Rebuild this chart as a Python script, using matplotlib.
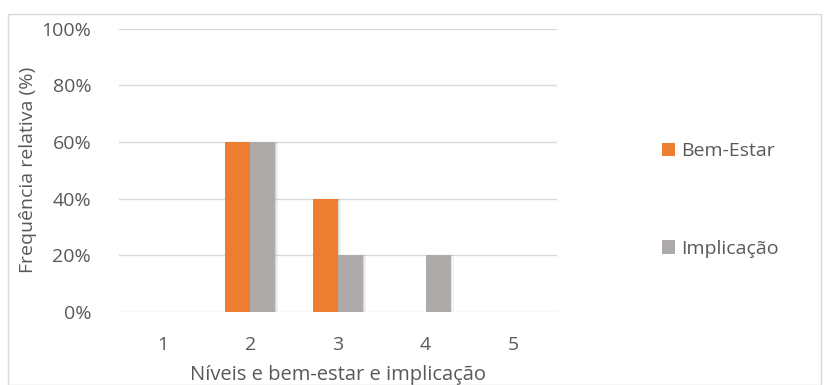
import matplotlib
matplotlib.use("Agg")
import matplotlib.pyplot as plt
from matplotlib.patches import Rectangle
import numpy as np

categories = ["1", "2", "3", "4", "5"]
bem_estar = [0.0, 0.6, 0.4, 0.0, 0.0]
implicacao = [0.0, 0.6, 0.2, 0.2, 0.0]
series_names = ["Bem-Estar", "Implicação"]
colors = ["#ED7D31", "#AEAAAA"]
yticks = [0, 0.2, 0.4, 0.6, 0.8, 1.0]
ytick_labels = ["0%", "20%", "40%", "60%", "80%", "100%"]

plt.rcParams['font.family'] = ['Open Sans', 'DejaVu Sans']
txt = "#595959"
fs = 14

W, H = 825, 385
fig = plt.figure(figsize=(W / 100, H / 100), dpi=100)

# outer chart border
fig.patches.append(Rectangle((8 / W, 0), (821 - 8) / W, (H - 14) / H,
                             transform=fig.transFigure, fill=False,
                             edgecolor="#D9D9D9", linewidth=1.0))

ax = fig.add_axes([119 / W, 1 - 312 / H, (557 - 119) / W, (312 - 28.7) / H])
x = np.arange(len(categories))
bw = 0.285
for i, (vals, c) in enumerate(zip([bem_estar, implicacao], colors)):
    pos = x + (i - 0.5) * bw
    # soft shadow
    for dx, a in [(0.035, 0.08), (0.022, 0.10), (0.01, 0.14)]:
        ax.bar(pos + dx, vals, bw, color="#7F7F7F", alpha=a, linewidth=0, zorder=2)
    ax.bar(pos, vals, bw, color=c, label=series_names[i], linewidth=0, zorder=3)

ax.set_xlim(-0.5, len(categories) - 0.5)
ax.set_ylim(0, 1.0)
ax.set_yticks(yticks)
ax.set_yticklabels(ytick_labels)
ax.set_xticks(x)
ax.set_xticklabels(categories)
ax.grid(axis="y", color="#D9D9D9", linewidth=1.0, zorder=0)
ax.set_axisbelow(True)
for s in ax.spines.values():
    s.set_visible(False)
ax.tick_params(length=0, labelsize=fs, colors=txt)
ax.tick_params(axis="y", pad=20)
ax.tick_params(axis="x", pad=17)
ax.set_xlabel("Níveis e bem-estar e implicação", fontsize=14.5, color=txt, labelpad=8)
ax.set_ylabel("Frequência relativa (%)", fontsize=fs, color=txt, labelpad=3)

# legend
handles, labels = ax.get_legend_handles_labels()
leg = fig.legend(handles, labels, loc="center left", bbox_to_anchor=(644 / W, 1 - 200 / H),
                 frameon=False, fontsize=fs, labelcolor=txt, handlelength=0.7,
                 handleheight=0.7, handletextpad=0.3, labelspacing=4.1)

fig.savefig("out.png", dpi=100)
